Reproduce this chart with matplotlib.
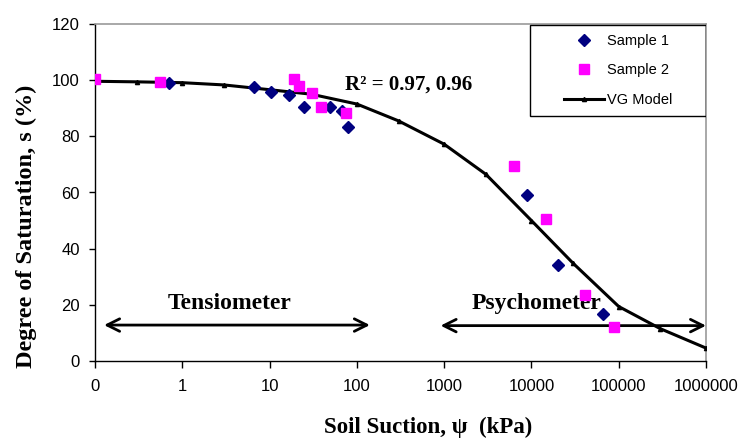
import matplotlib
matplotlib.use('Agg')
import matplotlib.pyplot as plt
from matplotlib.patches import Rectangle

# Soil water characteristic data (suction in kPa, saturation in %)
sample1_suction = [0.71, 6.6, 10.4, 16.8, 24.5, 49, 67.5, 80, 8800, 20100, 65400]
sample1_sat = [99.1, 97.7, 95.8, 94.6, 90.6, 90.5, 88.9, 83.4, 59.2, 34.1, 16.7]

sample2_suction = [0.1, 0.55, 18.9, 21.9, 30.8, 38.8, 75.7, 6360, 14800, 41000, 88800]
sample2_sat = [100.4, 99.5, 100.3, 97.9, 95.6, 90.3, 88.4, 69.4, 50.7, 23.4, 12.2]

vg_suction = [0.1, 0.3, 1, 3, 10, 30, 100, 300, 1000, 3000, 10000, 30000,
              100000, 300000, 1000000]
vg_sat = [99.6, 99.4, 99.1, 98.3, 96.6, 95.0, 91.5, 85.5, 77.2, 66.5, 50.0,
          34.8, 19.4, 11.5, 4.6]

x_ticks = [0.1, 1, 10, 100, 1000, 10000, 100000, 1000000]
x_tick_labels = ['0', '1', '10', '100', '1000', '10000', '100000', '1000000']
y_ticks = [0, 20, 40, 60, 80, 100, 120]

serif = ['Liberation Serif', 'DejaVu Serif']
plt.rcParams['font.family'] = ['Liberation Sans', 'DejaVu Sans']

fig = plt.figure(figsize=(7.45, 4.4), dpi=100)
ax = fig.add_axes([0.1275, 0.1795, 0.8202, 0.766])

# VG model curve
ax.plot(vg_suction, vg_sat, color='black', lw=2.2, marker='^', ms=3,
        label='VG Model', zorder=3)
ax.plot(sample1_suction, sample1_sat, linestyle='none', marker='D', ms=6.5,
        color='#000080', label='Sample 1', zorder=4)
ax.plot(sample2_suction, sample2_sat, linestyle='none', marker='s', ms=7,
        color='#FF00FF', label='Sample 2', zorder=4)

ax.set_xscale('log')
ax.set_xlim(0.1, 1000000)
ax.set_ylim(0, 120)
ax.set_xticks(x_ticks)
ax.set_xticklabels(x_tick_labels)
ax.minorticks_off()
ax.set_yticks(y_ticks)
ax.tick_params(axis='x', labelsize=12, direction='out', length=5,
               width=1, pad=8, colors='black')
ax.tick_params(axis='y', labelsize=12, direction='out', length=4,
               width=1, pad=7, colors='black')

for side in ['top', 'right']:
    ax.spines[side].set_color('#999999')
    ax.spines[side].set_linewidth(1.2)
for side in ['left', 'bottom']:
    ax.spines[side].set_color('black')
    ax.spines[side].set_linewidth(1)

ax.set_xlabel('Soil Suction, ψ  (kPa)', fontsize=16.5, fontweight='bold',
              family=serif, va='center')
ax.xaxis.set_label_coords(0.545, -0.196)
ax.set_ylabel('Degree of Saturation, s (%)', fontsize=17.5, fontweight='bold',
              family=serif, va='center')
ax.yaxis.set_label_coords(-0.113, 0.40)

# measurement range arrows
arrow = dict(arrowstyle='<->,head_length=0.9,head_width=0.45', lw=2,
             color='black', shrinkA=0, shrinkB=0)
ax.annotate('', xy=(0.127, 12.8), xytext=(141, 12.8), arrowprops=arrow)
ax.annotate('', xy=(910, 12.6), xytext=(1000000, 12.6), arrowprops=arrow,
            annotation_clip=False)
ax.text(3.5, 20.5, 'Tensiometer', fontsize=17, fontweight='bold',
        family=serif, ha='center', va='center')
ax.text(11500, 20.5, 'Psychometer', fontsize=17, fontweight='bold',
        family=serif, ha='center', va='center')
ax.text(73, 98.3, 'R² = 0.97, 0.96', fontsize=15, fontweight='bold',
        family=serif, ha='left', va='center')

# legend with a frame drawn separately so it can be wider than its entries
handles, labels = ax.get_legend_handles_labels()
order = [1, 2, 0]
leg = ax.legend([handles[i] for i in order], [labels[i] for i in order],
                loc='center', bbox_to_anchor=(0.856, 0.862), frameon=False,
                fontsize=10.5, handlelength=2.7, handletextpad=0.2,
                labelspacing=1.05)
ax.add_patch(Rectangle((0.712, 0.728), 0.288, 0.269, transform=ax.transAxes,
                       fill=False, edgecolor='black', lw=1, zorder=5))

fig.savefig('out.png', dpi=100)
